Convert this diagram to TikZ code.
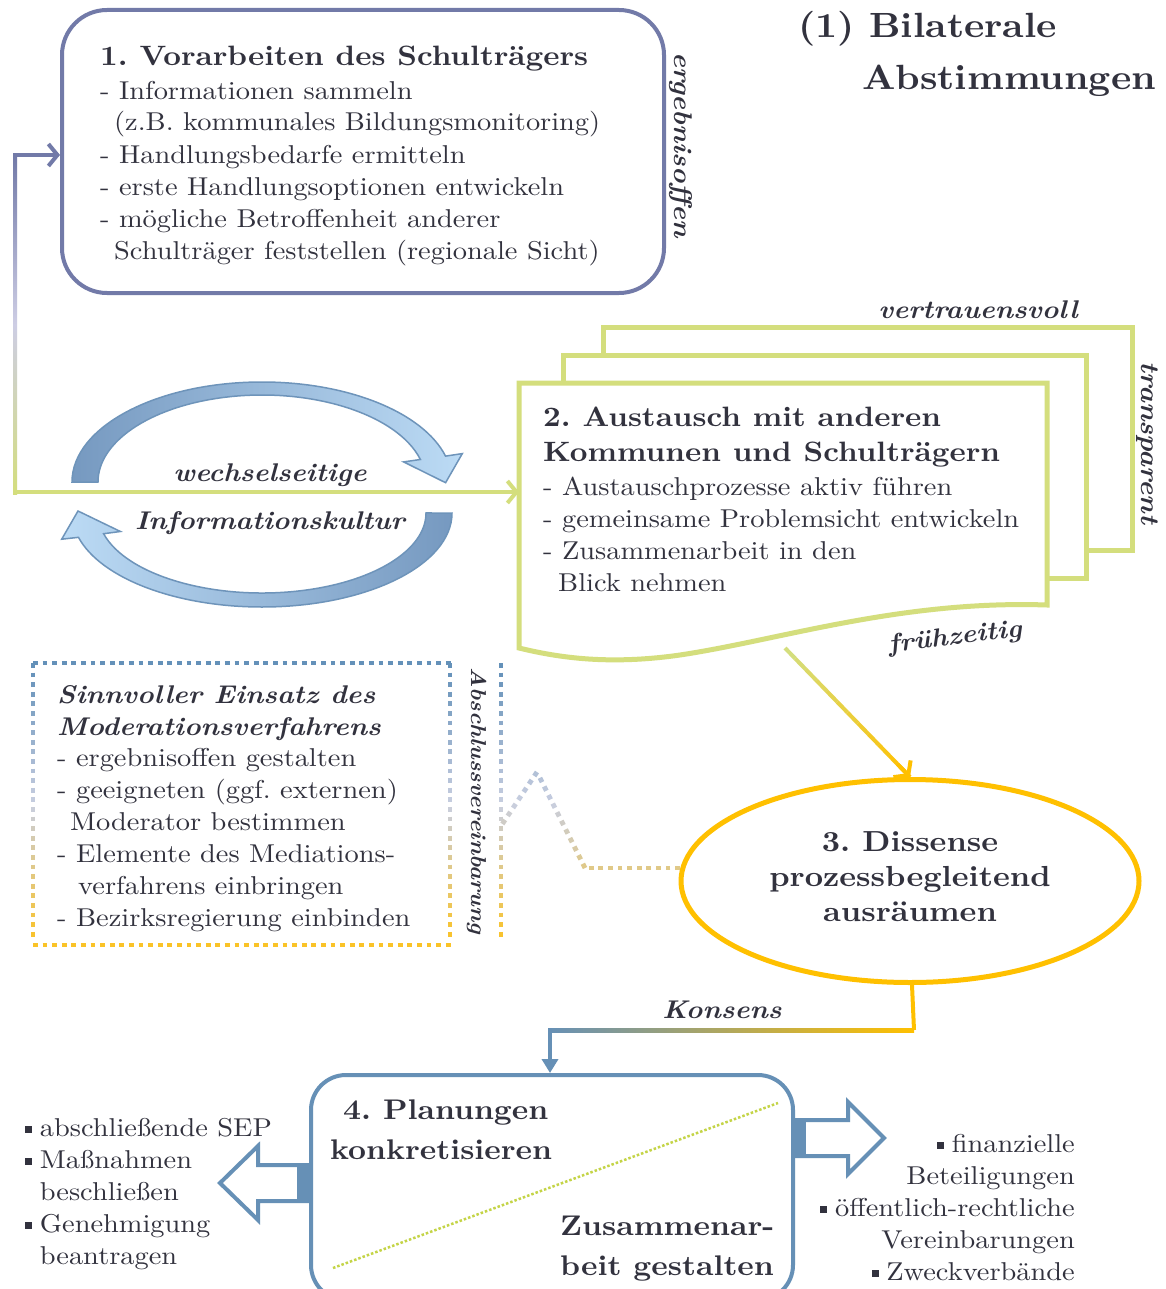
\documentclass[tikz,border=0pt]{standalone}
\usepackage{fontspec}
\setmainfont{lmroman10-regular.otf}[BoldFont=lmroman10-bold.otf, ItalicFont=lmroman10-italic.otf, BoldItalicFont=lmroman10-bolditalic.otf, FakeStretch=1.1]
\usetikzlibrary{arrows.meta,calc,shapes.geometric}
\frenchspacing
\definecolor{txt}{RGB}{50,50,62}
\definecolor{boxone}{RGB}{114,122,168}
\definecolor{grn}{RGB}{212,222,125}
\definecolor{ylw}{RGB}{255,192,0}
\definecolor{stb}{RGB}{102,144,182}
\definecolor{arrD}{RGB}{118,153,192}
\definecolor{arrL}{RGB}{188,219,245}
\definecolor{arrE}{RGB}{110,148,186}
\definecolor{dotB}{RGB}{100,145,185}
\definecolor{dotM}{RGB}{200,206,224}
\definecolor{dotY}{RGB}{250,195,40}
\definecolor{dgrn}{RGB}{196,212,70}
\definecolor{lilac}{RGB}{205,205,228}
\newcommand\fBody{\fontsize{25.8}{32}\selectfont}
\newcommand\fHead{\fontsize{28}{35}\selectfont\bfseries}
\newcommand\fLab{\fontsize{25.6}{32}\selectfont\bfseries\itshape}
\newcommand\fTitle{\fontsize{35}{52}\selectfont\bfseries}
\newcommand\fFour{\fontsize{28.4}{40}\selectfont\bfseries}
\newcommand\mysq{\rule[0.12em]{0.27em}{0.27em}\hspace{0.3em}}
\newcommand\mydots[4]{%
  \pgfmathsetmacro\dlen{veclen(#3-#1,#4-#2)}%
  \pgfmathtruncatemacro\dn{floor((\dlen-4)/9.6)}%
  \foreach \k in {0,...,\dn}{%
    \pgfmathsetmacro\fa{\k*9.6/\dlen}%
    \pgfmathsetmacro\fb{(\k*9.6+4.8)/\dlen}%
    \pgfmathsetmacro\xa{#1+(#3-#1)*\fa}%
    \pgfmathsetmacro\ya{#2+(#4-#2)*\fa}%
    \pgfmathsetmacro\xb{#1+(#3-#1)*\fb}%
    \pgfmathsetmacro\yb{#2+(#4-#2)*\fb}%
    \pgfmathtruncatemacro\tc{max(0,min(100,((\ya+\yb)/2-668)/270*100))}%
    \ifnum\tc<50
      \pgfmathtruncatemacro\tq{2*\tc}\def\dcol{dotM!\tq!dotB}%
    \else
      \pgfmathtruncatemacro\tq{2*\tc-100}\def\dcol{dotY!\tq!dotM}%
    \fi
    \draw[line width=4.8pt, color=\dcol] (\xa,\ya) -- (\xb,\yb);%
  }}
\begin{document}
\begin{tikzpicture}[x=1pt,y=-1pt, every node/.style={text=txt, inner sep=0pt}]
\useasboundingbox (0,0) rectangle (1165,1289);
\fill[white] (0,0) rectangle (1165,1289);

% ---------- Title
\node[anchor=base west, align=left, font=\fTitle] (title) at (798,90) {(1) Bilaterale\\\hspace*{64pt}Abstimmungen};

% ---------- Box 1
\node[draw=boxone, line width=4pt, rounded corners=45pt, minimum width=602pt, minimum height=283pt, fill=white] (b1) at (363,151.5) {};
\node[anchor=base west, font=\fHead] (b1h) at (100,66) {1. Vorarbeiten des Schulträgers};
\node[anchor=base west, align=left, font=\fBody] (b1t) at (100,259) {- Informationen sammeln\\\hspace*{14pt}(z.B. kommunales Bildungsmonitoring)\\- Handlungsbedarfe ermitteln\\- erste Handlungsoptionen entwickeln\\- mögliche Betroffenheit anderer\\\hspace*{14pt}Schulträger feststellen (regionale Sicht)};
\node[rotate=-90, font=\fLab] (lerg) at (681,145) {ergebnisoffen};

% ---------- Box 2 (stack of sheets)
\draw[grn, line width=5pt, fill=white] (603,327) rectangle (1132,550);
\draw[grn, line width=5pt, fill=white] (563,355) rectangle (1086,578);
\draw[grn, line width=5pt, fill=white] (519,383) -- (1047,383) -- (1047,605) .. controls (900,600) and (780,640) .. (680,655) .. controls (610,665) and (560,658) .. (519,648) -- cycle;
\coordinate (s2w) at (519,492);
\coordinate (s2b) at (785,648);
\node[anchor=base west, align=left, font=\fHead] (b2h) at (543,461) {2. Austausch mit anderen\\Kommunen und Schulträgern};
\node[anchor=base west, align=left, font=\fBody] (b2t) at (543,591) {- Austauschprozesse aktiv führen\\- gemeinsame Problemsicht entwickeln\\- Zusammenarbeit in den\\\hspace*{15pt}Blick nehmen};
\node[font=\fLab] (lver) at (978,310) {vertrauensvoll};
\node[rotate=-90, font=\fontsize{26}{32}\selectfont\bfseries\itshape] (ltra) at (1147,443) {transparent};
\node[rotate=7, font=\fLab] (lfru) at (955,638) {frühzeitig};

% ---------- feedback line
\coordinate (lp1) at (15,155);
\coordinate (lp2) at (15,492);
\shade[top color=boxone, bottom color=grn, middle color=lilac] (13,155) rectangle (17,494);
\draw[boxone, line width=4pt, -{Straight Barb[length=9pt,width=22pt]}] (13,155) -- (lp1 -| b1.west);
\draw[grn, line width=4pt, -{Straight Barb[length=9pt,width=22pt]}] (13,492) -- (s2w);

% ---------- curved arrows
\shadedraw[left color=arrD, right color=arrL, draw=arrE, line width=1.5pt]
  (72,482) arc[start angle=180, end angle=15, x radius=190pt, y radius=100pt]
  -- (462.3,453.6) -- (445.6,482.7) -- (403.6,461.9) -- (420.4,459.5)
  arc[start angle=15, end angle=180, x radius=164pt, y radius=87pt] -- cycle;
\shadedraw[left color=arrL, right color=arrD, draw=arrE, line width=1.5pt]
  (452,513) arc[start angle=0, end angle=-165, x radius=190pt, y radius=94pt]
  -- (61.7,539.2) -- (78,511) -- (120.4,531.5) -- (103.6,533.7)
  arc[start angle=-165, end angle=0, x radius=164pt, y radius=80pt] -- cycle;
\node[font=\fLab] (lwech) at (270,475) {wechselseitige};
\node[font=\fLab] (linfo) at (270,523) {Informationskultur};

% ---------- Ellipse 3
\node[ellipse, draw=ylw, line width=5pt, minimum width=458pt, minimum height=203pt, fill=white] (e3) at (910,881) {};
\node[align=center, font=\fontsize{29}{35}\selectfont\bfseries] (e3t) at (910,877) {3. Dissense\\prozessbegleitend\\ausräumen};

% green -> yellow arrow
\foreach \i in {0,...,11}{
  \pgfmathtruncatemacro\p{100*\i/11}
  \draw[line width=4pt, color=ylw!\p!grn] ($(s2b)!\i/12!(e3.north)$) -- ($(s2b)!{(\i+1)/12}!(e3.north)$);
}
\draw[ylw, line width=4pt, -{Straight Barb[length=9pt,width=24pt]}] ($(s2b)!0.9!(e3.north)$) -- (e3.north);

% ---------- dotted moderation box
\mydots{33}{663}{450}{663}
\mydots{33}{945}{450}{945}
\mydots{33}{663}{33}{945}
\mydots{450}{663}{450}{945}
\mydots{501}{663}{501}{945}
\coordinate (d1) at (585,868);
\coordinate (d2) at (537,772);
\coordinate (d3) at (501,826);
\mydots{680}{868}{585}{868}
\mydots{585}{868}{537}{772}
\mydots{537}{772}{501}{826}
\node[anchor=base west, align=left, font=\fLab] (dbh) at (57,735) {Sinnvoller Einsatz des\\Moderationsverfahrens};
\node[anchor=base west, align=left, font=\fBody] (dbt) at (57,926) {- ergebnisoffen gestalten\\- geeigneten (ggf. externen)\\\hspace*{13pt}Moderator bestimmen\\- Elemente des Mediations-\\\hspace*{21pt}verfahrens einbringen\\- Bezirksregierung einbinden};
\node[rotate=-90, font=\fontsize{21.5}{28}\selectfont\bfseries\itshape] (labs) at (477,801) {Abschlussvereinbarung};

% ---------- Box 4
\node[draw=stb, line width=4pt, rounded corners=35pt, minimum width=482pt, minimum height=225pt, fill=white] (b4) at (552,1187.5) {};
\coordinate (k1) at (912,1030);
\coordinate (k2) at (550,1030);
\draw[ylw, line width=4pt] (e3.south -| k1) -- (914,1030);
\shade[left color=stb, right color=ylw] (548,1028) rectangle (914,1032);
\draw[stb, line width=4pt, -{Triangle[length=14pt,width=16pt]}] (550,1028) -- (k2 |- b4.north);
\node[font=\fLab] (lkon) at (722,1010) {Konsens};

\draw[dgrn, line width=2.5pt, dash pattern=on 2.5pt off 2pt] (333,1268) -- (778,1103);
\node[anchor=base west, align=left, font=\fFour] (b4a) at (330,1159) {\hspace*{13pt}4. Planungen\\konkretisieren};
\node[anchor=base west, align=left, font=\fFour] (b4b) at (560,1275) {Zusammenar-\\beit gestalten};

% block arrows
\draw[stb, line width=4pt, fill=white, line join=miter] (311,1165) -- (258,1165) -- (258,1146) -- (220,1183) -- (258,1220) -- (258,1201) -- (311,1201);
\fill[stb] (297,1163) rectangle (313,1203);
\draw[stb, line width=4pt, fill=white, line join=miter] (793,1120) -- (848,1120) -- (848,1102) -- (884,1138) -- (848,1174) -- (848,1156) -- (793,1156);
\fill[stb] (791,1118) rectangle (806,1158);

% lists
\node[anchor=base west, align=left, font=\fBody] (lleft) at (25,1264) {\mysq abschließende SEP\\\mysq Maßnahmen\\\phantom{\mysq}beschließen\\\mysq Genehmigung\\\phantom{\mysq}beantragen};
\node[anchor=base east, align=right, font=\fBody] (lright) at (1075,1280) {\mysq finanzielle\\Beteiligungen\\\mysq öffentlich-rechtliche\\Vereinbarungen\\\mysq Zweckverbände};
\end{tikzpicture}
\end{document}
